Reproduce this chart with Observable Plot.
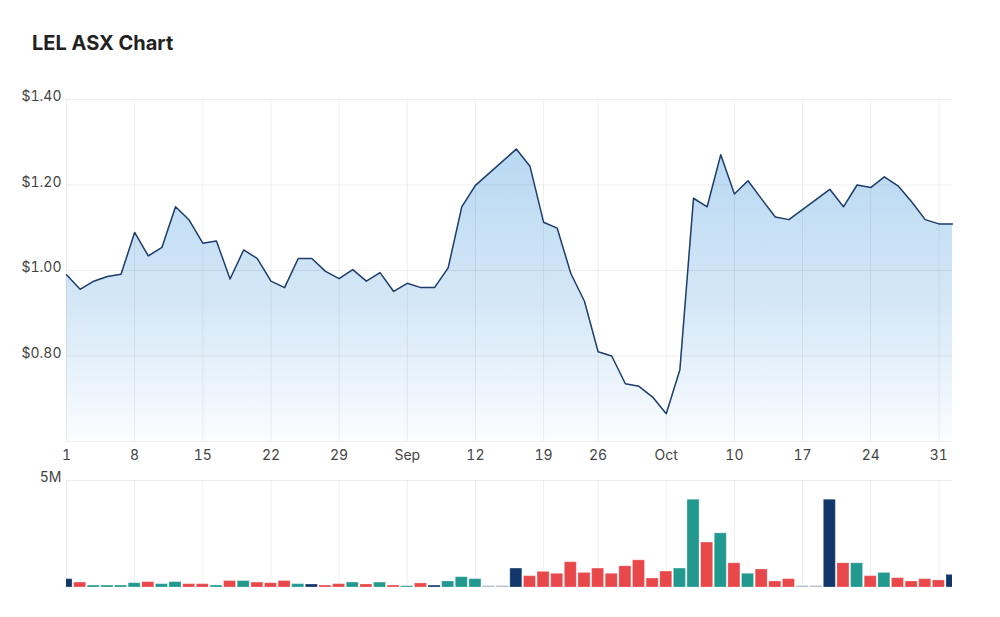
<!DOCTYPE html>
<html>
<head>
<meta charset="utf-8">
<script src="https://cdn.jsdelivr.net/npm/d3@7"></script>
<script src="https://cdn.jsdelivr.net/npm/@observablehq/plot@0.6"></script>
<style>
  body { margin: 0; background: #fff; font-family: Inter, "Noto Sans", sans-serif; }
  #wrap { position: relative; width: 1000px; height: 617px; overflow: hidden; }
  #title { position: absolute; left: 32px; top: 31px; font-weight: 700; font-size: 20px; line-height: 24px; color: #222; letter-spacing: 0px; }
  #price { position: absolute; left: 0; top: 80px; }
  #vol { position: absolute; left: 0; top: 465px; }
</style>
</head>
<body>
<div id="wrap">
  <div id="title">LEL ASX Chart</div>
  <div id="price"></div>
  <div id="vol"></div>
</div>
<script>
// Trading days (ASX, Aug 1 – Nov 1 2022)
const days = [
  "2022-08-01","2022-08-02","2022-08-03","2022-08-04","2022-08-05",
  "2022-08-08","2022-08-09","2022-08-10","2022-08-11","2022-08-12",
  "2022-08-15","2022-08-16","2022-08-17","2022-08-18","2022-08-19",
  "2022-08-22","2022-08-23","2022-08-24","2022-08-25","2022-08-26",
  "2022-08-29","2022-08-30","2022-08-31","2022-09-01","2022-09-02",
  "2022-09-05","2022-09-06","2022-09-07","2022-09-08","2022-09-09",
  "2022-09-12","2022-09-13","2022-09-14","2022-09-15","2022-09-16",
  "2022-09-19","2022-09-20","2022-09-21","2022-09-23",
  "2022-09-26","2022-09-27","2022-09-28","2022-09-29","2022-09-30",
  "2022-10-03","2022-10-04","2022-10-05","2022-10-06","2022-10-07",
  "2022-10-10","2022-10-11","2022-10-12","2022-10-13","2022-10-14",
  "2022-10-17","2022-10-18","2022-10-19","2022-10-20","2022-10-21",
  "2022-10-24","2022-10-25","2022-10-26","2022-10-27","2022-10-28",
  "2022-10-31","2022-11-01"
];

// Closing price ($); null = no data that day
const prices = [
  0.990, 0.956, 0.975, 0.986, 0.991,
  1.089, 1.034, 1.054, 1.149, 1.118,
  1.064, 1.069, 0.980, 1.048, 1.028,
  0.975, 0.960, 1.028, 1.028, 0.998,
  0.981, 1.002, 0.975, 0.995, 0.951,
  0.970, 0.960, 0.960, 1.006, 1.149,
  1.199, null, null, 1.284, 1.244,
  1.113, 1.099, 0.993, 0.928,
  0.810, 0.800, 0.735, 0.729, 0.704,
  0.665, 0.768, 1.169, 1.149, 1.271,
  1.179, 1.210, 1.167, 1.125, 1.119,
  null, null, 1.190, 1.149, 1.200,
  1.194, 1.219, 1.198, 1.161, 1.119,
  1.109, 1.109
];

// Volume (millions of shares)
const volumes = [
  0.39, 0.23, 0.09, 0.09, 0.09,
  0.20, 0.25, 0.155, 0.25, 0.155,
  0.155, 0.09, 0.30, 0.30, 0.23,
  0.20, 0.30, 0.155, 0.14, 0.09,
  0.155, 0.23, 0.14, 0.23, 0.09,
  0.06, 0.19, 0.09, 0.28, 0.48,
  0.39, 0.07, 0.07, 0.885, 0.53,
  0.73, 0.64, 1.18, 0.68,
  0.885, 0.64, 0.99, 1.27, 0.42,
  0.745, 0.885, 4.10, 2.10, 2.53,
  1.13, 0.64, 0.84, 0.28, 0.39,
  0.07, 0.07, 4.10, 1.13, 1.13,
  0.53, 0.68, 0.435, 0.28, 0.39,
  0.33, 0.59
];

// Day move as shown by bar colour: u = up, d = down, n = unchanged/new, x = no data
const moves = [
  "n","d","u","u","u", "u","d","u","u","d",
  "d","u","d","u","d", "d","d","u","n","d",
  "d","u","d","u","d", "u","d","n","u","u",
  "u","x","x","n","d", "d","d","d","d",
  "d","d","d","d","d", "d","u","u","d","u",
  "d","u","d","d","d", "x","x","n","d","u",
  "d","u","d","d","d", "d","n"
];

const moveColors = { u: "#21998f", d: "#e84849", n: "#12386b", x: "#aab6c6" };

const xTickDates = ["2022-08-01","2022-08-08","2022-08-15","2022-08-22","2022-08-29",
  "2022-09-05","2022-09-12","2022-09-19","2022-09-26",
  "2022-10-03","2022-10-10","2022-10-17","2022-10-24","2022-10-31"];
const xTickLabels = ["1","8","15","22","29","Sep","12","19","26","Oct","10","17","24","31"];

const priceDomain = [0.6, 1.4];
const priceTicks = [0.8, 1.0, 1.2, 1.4];
const volDomain = [0, 5];
const volTicks = [5];

// ---- build tables ----
const rows = days.map((d, i) => ({ i, date: d, price: prices[i], vol: volumes[i], move: moves[i] }));
const priced = rows.filter(r => r.price != null);
const tickIdx = xTickDates.map(d => days.indexOf(d));
const labelOf = new Map(tickIdx.map((t, k) => [t, xTickLabels[k]]));
const xDomain = [0, days.length - 1];

const font = { fontFamily: "Inter, 'Noto Sans', sans-serif", fontSize: "14px", color: "#444", background: "white" };
const gridStroke = "#000";
const gridOpacity = 0.065;

function liftYLabels(svg) {
  d3.select(svg).selectAll("g[aria-label^='y-axis'] text").style("translate", "0px -2.5px");
}

const price = Plot.plot({
  width: 1000,
  height: 385,
  marginTop: 19,
  marginBottom: 24,
  marginLeft: 66,
  marginRight: 48,
  style: font,
  x: { domain: xDomain, ticks: tickIdx, tickFormat: d => labelOf.get(d), tickSize: 0, tickPadding: 9, label: null },
  y: { domain: priceDomain, ticks: priceTicks, tickFormat: d => "$" + d.toFixed(2), tickSize: 0, tickPadding: 5, label: null },
  marks: [
    Plot.areaY(priced, { x: "i", y1: priceDomain[0], y2: "price", fill: "url(#priceFill)", curve: "linear" }),
    Plot.ruleX(tickIdx, { stroke: gridStroke, strokeOpacity: gridOpacity }),
    Plot.ruleY(priceTicks, { stroke: gridStroke, strokeOpacity: gridOpacity }),
    Plot.ruleY([priceDomain[0]], { stroke: gridStroke, strokeOpacity: gridOpacity }),
    Plot.lineY(priced, { x: "i", y: "price", stroke: "#1d3d6b", strokeWidth: 1.5, curve: "linear" })
  ]
});

const defs = d3.select(price).insert("defs", ":first-child");
const grad = defs.append("linearGradient").attr("id", "priceFill")
  .attr("x1", 0).attr("x2", 0).attr("y1", 0).attr("y2", 1);
grad.append("stop").attr("offset", "0%").attr("stop-color", "#b8d8f2");
grad.append("stop").attr("offset", "55%").attr("stop-color", "#d6e8f7");
grad.append("stop").attr("offset", "100%").attr("stop-color", "#fbfdff");
liftYLabels(price);
document.getElementById("price").appendChild(price);

const vol = Plot.plot({
  width: 1000,
  height: 152,
  marginTop: 15,
  marginBottom: 30,
  marginLeft: 66,
  marginRight: 48,
  style: font,
  x: { domain: xDomain, axis: null },
  y: { domain: volDomain, ticks: volTicks, tickFormat: d => d + "M", tickSize: 0, tickPadding: 5, label: null },
  marks: [
    Plot.ruleX(tickIdx, { stroke: gridStroke, strokeOpacity: gridOpacity }),
    Plot.ruleY(volTicks, { stroke: gridStroke, strokeOpacity: gridOpacity }),
    Plot.rectY(rows, {
      x1: d => d.i - 0.44, x2: d => d.i + 0.44, y: "vol",
      fill: d => moveColors[d.move],
      stroke: "white", strokeOpacity: 0.25, strokeWidth: 1,
      clip: true
    })
  ]
});
liftYLabels(vol);
document.getElementById("vol").appendChild(vol);
</script>
</body>
</html>
